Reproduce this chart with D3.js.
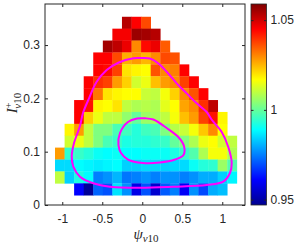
<!DOCTYPE html>
<html>
<head>
<meta charset="utf-8">
<script src="https://cdn.jsdelivr.net/npm/d3@7"></script>
<style>
  body { margin: 0; background: #fff; }
  svg { display: block; }
  text { font-family: "Liberation Sans", Arial, sans-serif; fill: #262626; }
</style>
</head>
<body>
<svg width="296" height="245"></svg>
<script>
const _ = null;

// bin centres (psi across, I+ down from the top row)
const psiCenters = [-1.031, -0.911, -0.792, -0.672, -0.553, -0.433, -0.314, -0.194, -0.074,
  0.045, 0.165, 0.285, 0.404, 0.524, 0.644, 0.763, 0.883, 1.002, 1.122];
const iCenters = [0.3419, 0.3196, 0.2973, 0.2750, 0.2526, 0.2303, 0.2080, 0.1857,
  0.1634, 0.1411, 0.1188, 0.0965, 0.0741, 0.0518, 0.0295];

// ratio per cell, one row per iCenters entry
const ratio = [
  [_,_,_,_,_,_,_,1.053,1.045,1.037,_,_,_,_,_,_,_,_,_],
  [_,_,_,_,_,_,1.046,1.046,1.056,1.055,1.053,_,_,_,_,_,_,_,_],
  [_,_,_,_,_,1.055,1.052,1.047,1.030,1.044,1.047,1.035,_,_,_,_,_,_,_],
  [_,_,_,_,1.045,1.045,1.037,1.026,1.028,1.025,1.030,1.037,1.036,_,_,_,_,_,_],
  [_,_,_,_,1.045,1.044,1.038,1.020,1.018,1.017,1.036,1.030,1.031,1.045,_,_,_,_,_],
  [_,_,_,1.045,1.040,1.038,1.028,1.022,1.012,1.015,1.024,1.028,1.030,1.038,1.045,_,_,_,_],
  [_,_,_,1.045,1.032,1.020,1.018,1.017,1.017,1.011,1.010,1.016,1.022,1.030,1.036,1.045,_,_,_],
  [_,_,1.045,1.043,1.018,1.017,1.020,1.010,1.008,1.009,1.008,1.014,1.017,1.027,1.030,1.040,1.052,_,_],
  [_,_,1.045,1.022,1.015,1.010,1.010,1.005,1.000,1.006,1.007,1.010,1.016,1.024,1.028,1.038,1.043,1.018,_],
  [_,1.018,1.028,1.010,1.003,1.003,0.997,0.996,0.993,0.996,0.997,1.003,1.009,1.011,1.016,1.023,1.030,1.017,_],
  [_,1.012,1.015,1.010,1.003,0.997,0.995,0.992,0.993,0.993,0.994,0.995,1.000,1.003,1.008,1.015,1.017,1.012,1.010],
  [1.028,0.994,0.995,0.993,0.990,0.989,0.990,0.989,0.989,0.990,0.990,0.990,0.992,0.995,0.998,1.008,1.016,1.016,1.008],
  [0.985,0.985,0.989,0.988,0.987,0.988,0.989,0.984,0.984,0.985,0.985,0.984,0.985,0.985,0.990,0.993,0.994,1.006,0.998],
  [1.010,0.984,0.992,0.989,0.975,0.977,0.981,0.974,0.975,0.977,0.975,0.977,0.977,0.975,0.977,0.980,0.980,0.984,0.988],
  [_,_,0.961,0.948,0.972,0.970,0.986,0.977,0.958,0.970,0.955,0.971,0.975,0.960,0.977,0.969,0.980,0.982,_]
];

// contour lines [psi, I+]
const outerContour = [
  [-0.029,0.2756],[0.096,0.2747],[0.200,0.2657],[0.305,0.2500],[0.430,0.2282],[0.555,0.2094],
  [0.680,0.1907],[0.805,0.1744],[0.871,0.1594],[0.993,0.1369],[1.075,0.1088],[1.118,0.0788],
  [1.096,0.0600],[1.012,0.0437],[0.805,0.0375],[0.388,0.0343],[-0.029,0.0324],[-0.404,0.0343],
  [-0.612,0.0407],[-0.779,0.0531],[-0.862,0.0718],[-0.882,0.0906],[-0.854,0.1157],[-0.779,0.1480],
  [-0.741,0.1725],[-0.675,0.1969],[-0.570,0.2312],[-0.445,0.2531],[-0.300,0.2668],[-0.112,0.2751]
];
const innerContour = [
  [0.034,0.1626],[0.138,0.1603],[0.305,0.1444],[0.450,0.1275],[0.521,0.1106],[0.515,0.0938],
  [0.409,0.0853],[0.221,0.0797],[0.009,0.0788],[-0.179,0.0853],[-0.266,0.0975],[-0.298,0.1125],
  [-0.279,0.1350],[-0.179,0.1556],[-0.066,0.1622]
];

const xTicks = [-1, -0.5, 0, 0.5, 1];
const yTicks = [0, 0.1, 0.2, 0.3];
const cTicks = [0.95, 1, 1.05];
const cLimits = [0.947, 1.059];

// jet colour map
const jetStops = [0, 0.125, 0.375, 0.625, 0.875, 1];
const jetColors = ['#00008f', '#0000ff', '#00ffff', '#ffff00', '#ff0000', '#800000'];

const svg = d3.select('svg');
const plot = {left: 45, right: 245, top: 4, bottom: 205};

const x = d3.scaleLinear().domain([-1.216, 1.284]).range([plot.left, plot.right]);
const y = d3.scaleLinear().domain([0, 0.377]).range([plot.bottom, plot.top]);
const color = d3.scaleLinear()
  .domain(jetStops.map(t => cLimits[0] + t * (cLimits[1] - cLimits[0])))
  .range(jetColors)
  .clamp(true);

const dPsi = psiCenters[1] - psiCenters[0];
const dI = iCenters[0] - iCenters[1];

const cells = [];
ratio.forEach((row, r) => {
  row.forEach((v, c) => {
    if (v !== null) cells.push({psi: psiCenters[c], i: iCenters[r], v: v});
  });
});

svg.append('g')
  .selectAll('rect')
  .data(cells)
  .enter()
  .append('rect')
  .attr('x', d => x(d.psi - dPsi / 2))
  .attr('y', d => y(d.i + dI / 2))
  .attr('width', d => x(d.psi + dPsi / 2) - x(d.psi - dPsi / 2) + 0.3)
  .attr('height', d => y(d.i - dI / 2) - y(d.i + dI / 2) + 0.3)
  .attr('fill', d => color(d.v));

const line = d3.line()
  .x(d => x(d[0]))
  .y(d => y(d[1]))
  .curve(d3.curveCatmullRomClosed.alpha(0.5));

[outerContour, innerContour].forEach(pts => {
  svg.append('path')
    .datum(pts)
    .attr('fill', 'none')
    .attr('stroke', '#ff00ff')
    .attr('stroke-width', 2)
    .attr('d', line);
});

// axes, ticks inward on all four sides
const fmt = d => String(d);
svg.append('g')
  .attr('transform', `translate(0,${plot.bottom})`)
  .call(d3.axisBottom(x).tickValues(xTicks).tickSize(-3).tickPadding(9).tickFormat(fmt));
svg.append('g')
  .attr('transform', `translate(0,${plot.top})`)
  .call(d3.axisTop(x).tickValues(xTicks).tickSize(-3).tickFormat(''));
svg.append('g')
  .attr('transform', `translate(${plot.left},0)`)
  .call(d3.axisLeft(y).tickValues(yTicks).tickSize(-3).tickPadding(5).tickFormat(fmt));
svg.append('g')
  .attr('transform', `translate(${plot.right},0)`)
  .call(d3.axisRight(y).tickValues(yTicks).tickSize(-3).tickFormat(''));

svg.selectAll('.domain').remove();
svg.selectAll('.tick line').attr('stroke', '#262626');
svg.selectAll('.tick text').attr('font-size', 12).attr('fill', '#262626')
  .attr('font-family', '"Liberation Sans", Arial, sans-serif');

svg.append('rect')
  .attr('x', plot.left).attr('y', plot.top)
  .attr('width', plot.right - plot.left).attr('height', plot.bottom - plot.top)
  .attr('fill', 'none').attr('stroke', '#262626').attr('stroke-width', 1);

// axis labels
const xl = svg.append('text')
  .attr('x', 146).attr('y', 239)
  .attr('text-anchor', 'middle')
  .style('font-family', '"Liberation Serif", "DejaVu Serif", serif')
  .attr('font-size', 15);
xl.append('tspan').attr('font-style', 'italic').text('ψ');
xl.append('tspan').attr('font-size', 11).attr('dy', 3).attr('font-style', 'italic').text('v');
xl.append('tspan').attr('font-size', 11).text('10');

const yl = svg.append('text')
  .attr('transform', 'translate(17,103) rotate(-90)')
  .attr('text-anchor', 'middle')
  .style('font-family', '"Liberation Serif", "DejaVu Serif", serif')
  .attr('font-size', 15);
yl.append('tspan').attr('font-style', 'italic').text('I');
yl.append('tspan').attr('font-size', 10).attr('dy', -5).text('+');
yl.append('tspan').attr('font-size', 11).attr('dx', -6).attr('dy', 9).attr('font-style', 'italic').text('v');
yl.append('tspan').attr('font-size', 11).text('10');

// colour bar
const cb = {left: 251, width: 15.5, top: 4, bottom: 205};
const cy = d3.scaleLinear().domain(cLimits).range([cb.bottom, cb.top]);

const grad = svg.append('defs').append('linearGradient')
  .attr('id', 'jet').attr('x1', 0).attr('y1', 1).attr('x2', 0).attr('y2', 0);
grad.selectAll('stop')
  .data(jetStops)
  .enter()
  .append('stop')
  .attr('offset', d => d)
  .attr('stop-color', (d, i) => jetColors[i]);

svg.append('rect')
  .attr('x', cb.left).attr('y', cb.top)
  .attr('width', cb.width).attr('height', cb.bottom - cb.top)
  .attr('fill', 'url(#jet)')
  .attr('stroke', '#262626').attr('stroke-width', 0.8);

svg.append('g')
  .attr('transform', `translate(${cb.left + cb.width},0)`)
  .call(d3.axisRight(cy).tickValues(cTicks).tickSize(-2.5).tickPadding(4).tickFormat(fmt))
  .call(g => g.select('.domain').remove())
  .call(g => g.selectAll('.tick line').attr('stroke', '#262626'))
  .call(g => g.selectAll('.tick text').attr('font-size', 12).attr('fill', '#262626')
    .attr('font-family', '"Liberation Sans", Arial, sans-serif'));
svg.append('g')
  .attr('transform', `translate(${cb.left},0)`)
  .call(d3.axisLeft(cy).tickValues(cTicks).tickSize(-2.5).tickFormat(''))
  .call(g => g.select('.domain').remove())
  .call(g => g.selectAll('.tick line').attr('stroke', '#262626'));
</script>
</body>
</html>
